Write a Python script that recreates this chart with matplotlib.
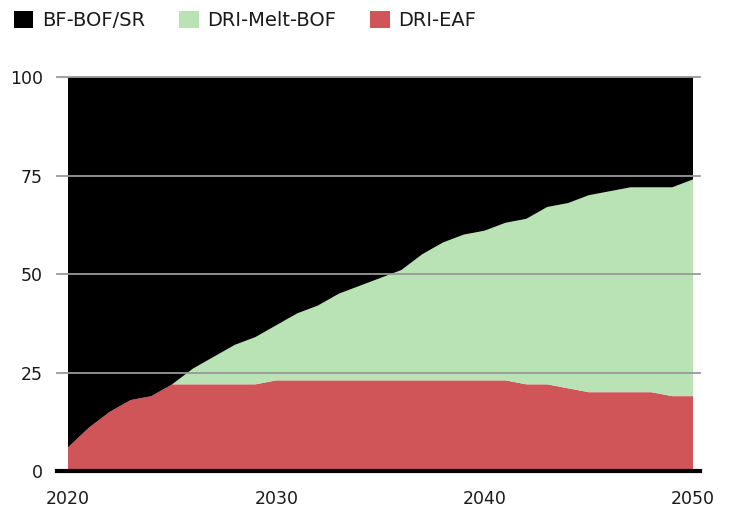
import numpy as np
import matplotlib
matplotlib.use("Agg")
import matplotlib.pyplot as plt
from matplotlib.patches import Patch

years = list(range(2020, 2051))
dri_eaf = [6, 11, 15, 18, 19, 22, 22, 22, 22, 22, 23, 23, 23, 23, 23, 23,
           23, 23, 23, 23, 23, 23, 22, 22, 21, 20, 20, 20, 20, 19, 19]
# cumulative top of DRI-Melt-BOF band
melt_top = [6, 11, 15, 18, 19, 22, 26, 29, 32, 34, 37, 40, 42, 45, 47, 49,
            51, 55, 58, 60, 61, 63, 64, 67, 68, 70, 71, 72, 72, 72, 74]
dri_melt = [t - e for t, e in zip(melt_top, dri_eaf)]
bf_bof = [100 - t for t in melt_top]

labels = ["BF-BOF/SR", "DRI-Melt-BOF", "DRI-EAF"]
colors = {"BF-BOF/SR": "#000000", "DRI-Melt-BOF": "#b9e3b4", "DRI-EAF": "#cf5558"}
yticks = [0, 25, 50, 75, 100]
xticks = [2020, 2030, 2040, 2050]

plt.rcParams["font.family"] = ["DejaVu Sans"]

fig = plt.figure(figsize=(7.32, 5.08), dpi=100)
ax = fig.add_axes([68/732, 37/508, 625/732, 394/508])

ax.stackplot(years, dri_eaf, dri_melt, bf_bof,
             colors=[colors["DRI-EAF"], colors["DRI-Melt-BOF"], colors["BF-BOF/SR"]],
             linewidth=0)
ax.set_xlim(2020, 2050)
ax.set_ylim(0, 100)

for v in yticks[1:]:
    ax.axhline(v, xmin=-0.018, xmax=1.011, color="#999999", lw=1.3, clip_on=False, zorder=3)
ax.axhline(0, xmin=-0.018, xmax=1.011, color="black", lw=3, clip_on=False, zorder=4)

for s in ax.spines.values():
    s.set_visible(False)
ax.set_yticks(yticks)
ax.set_xticks(xticks)
ax.tick_params(axis="both", length=0, labelsize=12.5, colors="#1a1a1a")
ax.tick_params(axis="y", pad=18)
ax.tick_params(axis="x", pad=14)

handles = [Patch(facecolor=colors[l], edgecolor="none") for l in labels]
fig.legend(handles, labels, loc="upper left", bbox_to_anchor=(-0.005, 1.012), ncol=3,
           frameon=False, fontsize=14, handlelength=1.0, handleheight=0.95,
           handletextpad=0.45, columnspacing=1.75,
           labelcolor="#1a1a1a")

fig.savefig("out.png", dpi=100)
